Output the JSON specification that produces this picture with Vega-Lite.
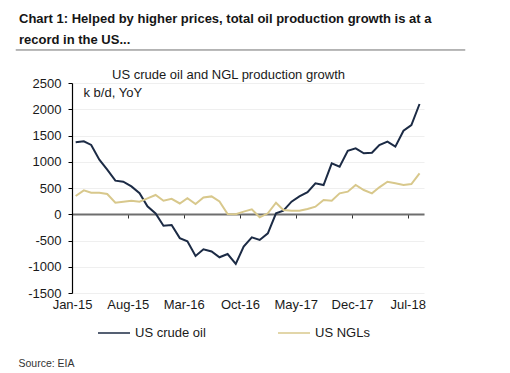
{
  "$schema": "https://vega.github.io/schema/vega-lite/v6.json",
  "width": 352,
  "height": 210,
  "autosize": "none",
  "padding": {"left": 72, "top": 83, "right": 86, "bottom": 80},
  "background": "white",
  "config": {
    "view": {"stroke": null},
    "font": "Liberation Sans",
    "axis": {"labelFont": "Liberation Sans", "titleFont": "Liberation Sans"},
    "legend": {"labelFont": "Liberation Sans"}
  },
  "title": {
    "text": ["Chart 1: Helped by higher prices, total oil production growth is at a", "record in the US..."],
    "anchor": "start",
    "frame": "group",
    "dx": -53,
    "offset": 2,
    "fontSize": 13,
    "fontWeight": "bold",
    "font": "Liberation Sans",
    "color": "#151515",
    "lineHeight": 21.5
  },
  "datasets": {
    "prod": [
      {"month": "2015-01-15", "series": "US crude oil", "value": 1370},
      {"month": "2015-02-15", "series": "US crude oil", "value": 1390},
      {"month": "2015-03-15", "series": "US crude oil", "value": 1320},
      {"month": "2015-04-15", "series": "US crude oil", "value": 1040},
      {"month": "2015-05-15", "series": "US crude oil", "value": 850},
      {"month": "2015-06-15", "series": "US crude oil", "value": 640},
      {"month": "2015-07-15", "series": "US crude oil", "value": 620},
      {"month": "2015-08-15", "series": "US crude oil", "value": 530},
      {"month": "2015-09-15", "series": "US crude oil", "value": 400},
      {"month": "2015-10-15", "series": "US crude oil", "value": 150},
      {"month": "2015-11-15", "series": "US crude oil", "value": 15},
      {"month": "2015-12-15", "series": "US crude oil", "value": -220},
      {"month": "2016-01-15", "series": "US crude oil", "value": -205},
      {"month": "2016-02-15", "series": "US crude oil", "value": -455},
      {"month": "2016-03-15", "series": "US crude oil", "value": -515},
      {"month": "2016-04-15", "series": "US crude oil", "value": -795},
      {"month": "2016-05-15", "series": "US crude oil", "value": -668},
      {"month": "2016-06-15", "series": "US crude oil", "value": -710},
      {"month": "2016-07-15", "series": "US crude oil", "value": -820},
      {"month": "2016-08-15", "series": "US crude oil", "value": -757},
      {"month": "2016-09-15", "series": "US crude oil", "value": -945},
      {"month": "2016-10-15", "series": "US crude oil", "value": -617},
      {"month": "2016-11-15", "series": "US crude oil", "value": -440},
      {"month": "2016-12-15", "series": "US crude oil", "value": -490},
      {"month": "2017-01-15", "series": "US crude oil", "value": -363},
      {"month": "2017-02-15", "series": "US crude oil", "value": 18},
      {"month": "2017-03-15", "series": "US crude oil", "value": 68},
      {"month": "2017-04-15", "series": "US crude oil", "value": 240},
      {"month": "2017-05-15", "series": "US crude oil", "value": 340},
      {"month": "2017-06-15", "series": "US crude oil", "value": 420},
      {"month": "2017-07-15", "series": "US crude oil", "value": 590},
      {"month": "2017-08-15", "series": "US crude oil", "value": 557},
      {"month": "2017-09-15", "series": "US crude oil", "value": 970},
      {"month": "2017-10-15", "series": "US crude oil", "value": 906},
      {"month": "2017-11-15", "series": "US crude oil", "value": 1210},
      {"month": "2017-12-15", "series": "US crude oil", "value": 1255},
      {"month": "2018-01-15", "series": "US crude oil", "value": 1160},
      {"month": "2018-02-15", "series": "US crude oil", "value": 1173},
      {"month": "2018-03-15", "series": "US crude oil", "value": 1319},
      {"month": "2018-04-15", "series": "US crude oil", "value": 1383},
      {"month": "2018-05-15", "series": "US crude oil", "value": 1287},
      {"month": "2018-06-15", "series": "US crude oil", "value": 1591},
      {"month": "2018-07-15", "series": "US crude oil", "value": 1700},
      {"month": "2018-08-15", "series": "US crude oil", "value": 2100},
      {"month": "2015-01-15", "series": "US NGLs", "value": 348},
      {"month": "2015-02-15", "series": "US NGLs", "value": 455},
      {"month": "2015-03-15", "series": "US NGLs", "value": 410},
      {"month": "2015-04-15", "series": "US NGLs", "value": 410},
      {"month": "2015-05-15", "series": "US NGLs", "value": 386},
      {"month": "2015-06-15", "series": "US NGLs", "value": 220},
      {"month": "2015-07-15", "series": "US NGLs", "value": 240},
      {"month": "2015-08-15", "series": "US NGLs", "value": 258},
      {"month": "2015-09-15", "series": "US NGLs", "value": 240},
      {"month": "2015-10-15", "series": "US NGLs", "value": 303},
      {"month": "2015-11-15", "series": "US NGLs", "value": 367},
      {"month": "2015-12-15", "series": "US NGLs", "value": 258},
      {"month": "2016-01-15", "series": "US NGLs", "value": 293},
      {"month": "2016-02-15", "series": "US NGLs", "value": 205},
      {"month": "2016-03-15", "series": "US NGLs", "value": 305},
      {"month": "2016-04-15", "series": "US NGLs", "value": 195},
      {"month": "2016-05-15", "series": "US NGLs", "value": 320},
      {"month": "2016-06-15", "series": "US NGLs", "value": 340},
      {"month": "2016-07-15", "series": "US NGLs", "value": 245},
      {"month": "2016-08-15", "series": "US NGLs", "value": 5},
      {"month": "2016-09-15", "series": "US NGLs", "value": 0},
      {"month": "2016-10-15", "series": "US NGLs", "value": 50},
      {"month": "2016-11-15", "series": "US NGLs", "value": 94},
      {"month": "2016-12-15", "series": "US NGLs", "value": -58},
      {"month": "2017-01-15", "series": "US NGLs", "value": 18},
      {"month": "2017-02-15", "series": "US NGLs", "value": 220},
      {"month": "2017-03-15", "series": "US NGLs", "value": 81},
      {"month": "2017-04-15", "series": "US NGLs", "value": 65},
      {"month": "2017-05-15", "series": "US NGLs", "value": 65},
      {"month": "2017-06-15", "series": "US NGLs", "value": 100},
      {"month": "2017-07-15", "series": "US NGLs", "value": 144},
      {"month": "2017-08-15", "series": "US NGLs", "value": 271},
      {"month": "2017-09-15", "series": "US NGLs", "value": 258},
      {"month": "2017-10-15", "series": "US NGLs", "value": 398},
      {"month": "2017-11-15", "series": "US NGLs", "value": 430},
      {"month": "2017-12-15", "series": "US NGLs", "value": 557},
      {"month": "2018-01-15", "series": "US NGLs", "value": 462},
      {"month": "2018-02-15", "series": "US NGLs", "value": 398},
      {"month": "2018-03-15", "series": "US NGLs", "value": 513},
      {"month": "2018-04-15", "series": "US NGLs", "value": 620},
      {"month": "2018-05-15", "series": "US NGLs", "value": 589},
      {"month": "2018-06-15", "series": "US NGLs", "value": 557},
      {"month": "2018-07-15", "series": "US NGLs", "value": 576},
      {"month": "2018-08-15", "series": "US NGLs", "value": 780}
    ]
  },
  "resolve": {"axis": {"x": "independent", "y": "independent"}},
  "layer": [
    {
      "data": {"name": "prod"},
      "mark": {"type": "line", "strokeWidth": 2, "interpolate": "linear"},
      "encoding": {
        "x": {
          "field": "month",
          "type": "temporal",
          "scale": {"type": "utc", "domain": [{"year": 2015, "month": 1, "date": 1, "utc": true}, {"year": 2018, "month": 9, "date": 1, "utc": true}]},
          "axis": {
            "orient": "bottom",
            "offset": -79,
            "values": [
              {"year": 2015, "month": 1, "date": 1, "utc": true},
              {"year": 2015, "month": 8, "date": 1, "utc": true},
              {"year": 2016, "month": 3, "date": 1, "utc": true},
              {"year": 2016, "month": 10, "date": 1, "utc": true},
              {"year": 2017, "month": 5, "date": 1, "utc": true},
              {"year": 2017, "month": 12, "date": 1, "utc": true},
              {"year": 2018, "month": 7, "date": 1, "utc": true}
            ],
            "format": "%b-%y",
            "labelDx": 4,
            "labelPadding": 80,
            "labelFontSize": 13,
            "labelColor": "#1a1a1a",
            "labelFlush": false,
            "labelOverlap": false,
            "grid": false,
            "domainColor": "#6e6e6e",
            "domainWidth": 2,
            "tickColor": "#333333",
            "tickSize": 4,
            "tickWidth": 1,
            "title": "Source: EIA",
            "titleX": -54,
            "titleY": 152,
            "titleAlign": "left",
            "titleBaseline": "alphabetic",
            "titleAngle": 0,
            "titleFontSize": 10.5,
            "titleFontWeight": "normal",
            "titleColor": "#333333"
          }
        },
        "y": {
          "field": "value",
          "type": "quantitative",
          "scale": {"domain": [-1500, 2500], "nice": false, "zero": false},
          "axis": {
            "orient": "left",
            "values": [-1500, -1000, -500, 0, 500, 1000, 1500, 2000, 2500],
            "labelExpr": "'' + datum.value",
            "labelFontSize": 13,
            "labelColor": "#1a1a1a",
            "labelPadding": 7,
            "domainColor": "#000000",
            "domainWidth": 1.2,
            "tickColor": "#000000",
            "tickSize": 4,
            "grid": true,
            "gridColor": "#efefef",
            "gridWidth": 1,
            "title": "k b/d, YoY",
            "titleX": 11,
            "titleY": 13,
            "titleAlign": "left",
            "titleBaseline": "alphabetic",
            "titleAngle": 0,
            "titleFontSize": 13,
            "titleFontWeight": "normal",
            "titleColor": "#1a1a1a"
          }
        },
        "color": {
          "field": "series",
          "type": "nominal",
          "scale": {"domain": ["US crude oil", "US NGLs"], "range": ["#1c2b45", "#d8c88c"]},
          "legend": {
            "orient": "none",
            "legendX": 25,
            "legendY": 233,
            "direction": "horizontal",
            "title": null,
            "columnPadding": 69,
            "labelFontSize": 13,
            "labelColor": "#1a1a1a",
            "labelOffset": 4,
            "symbolType": "stroke",
            "symbolSize": 1024,
            "symbolStrokeWidth": 1.5
          }
        }
      }
    },
    {
      "data": {"values": [{}]},
      "mark": {"type": "rule", "color": "#707070", "strokeWidth": 1},
      "encoding": {
        "x": {"datum": {"year": 2014, "month": 6, "date": 1, "utc": true}, "type": "temporal", "axis": null},
        "x2": {"datum": {"year": 2019, "month": 2, "date": 5, "utc": true}},
        "y": {
          "datum": 3129,
          "type": "quantitative",
          "axis": {
            "orient": "right",
            "labels": false,
            "ticks": false,
            "domain": false,
            "grid": false,
            "title": "US crude oil and NGL production growth",
            "titleX": -196,
            "titleY": -5,
            "titleAlign": "center",
            "titleBaseline": "alphabetic",
            "titleAngle": 0,
            "titleFontSize": 13,
            "titleFontWeight": "normal",
            "titleColor": "#1a1a1a"
          }
        }
      }
    }
  ]
}
